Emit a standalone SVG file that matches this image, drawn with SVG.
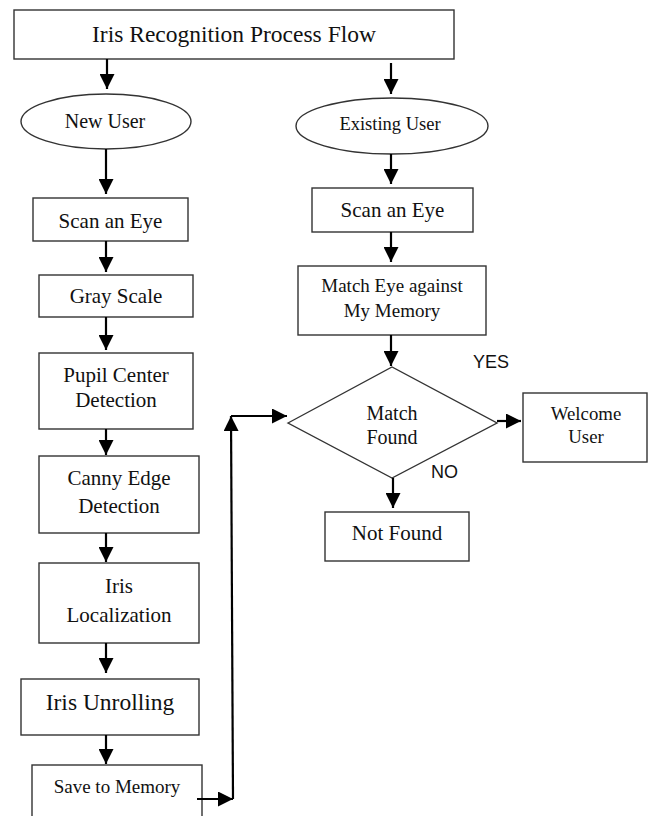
<svg xmlns="http://www.w3.org/2000/svg" width="654" height="816" viewBox="0 0 654 816">
<style>
  .box { fill: #fff; stroke: #333; stroke-width: 1.4; }
  .t { font-family: "Liberation Serif", "Times New Roman", serif; fill: #111; text-anchor: middle; }
  .s { font-family: "Liberation Sans", Arial, sans-serif; fill: #111; }
  .c { stroke: #000; stroke-width: 2.2; fill: none; }
  .ca { stroke: #000; stroke-width: 2.2; fill: none; marker-end: url(#ah); }
</style>
<defs>
  <marker id="ah" viewBox="0 0 14 14" refX="14" refY="7" markerWidth="15" markerHeight="15" markerUnits="userSpaceOnUse" orient="auto">
    <path d="M0,0 L14,7 L0,14 z" fill="#000"/>
  </marker>
</defs>
<rect width="654" height="816" fill="#fff"/>

<g id="title">
  <rect class="box" x="14" y="10" width="440" height="49"/>
  <text class="t" x="234" y="42" font-size="23.5">Iris Recognition Process Flow</text>
</g>
<g id="new-user">
  <ellipse class="box" cx="106" cy="121.5" rx="85" ry="27.5"/>
  <text class="t" x="105" y="128" font-size="20">New User</text>
</g>
<g id="existing-user">
  <ellipse class="box" cx="392" cy="126" rx="96" ry="28"/>
  <text class="t" x="390" y="130" font-size="18.5">Existing User</text>
</g>
<g id="scan-left">
  <rect class="box" x="33" y="198" width="155" height="43"/>
  <text class="t" x="110.5" y="228" font-size="21">Scan an Eye</text>
</g>
<g id="gray-scale">
  <rect class="box" x="39" y="275" width="154" height="42"/>
  <text class="t" x="116" y="303" font-size="21">Gray Scale</text>
</g>
<g id="pupil">
  <rect class="box" x="39" y="353" width="154" height="76"/>
  <text class="t" x="116" y="382" font-size="21">Pupil Center</text>
  <text class="t" x="116" y="407" font-size="21">Detection</text>
</g>
<g id="canny">
  <rect class="box" x="39" y="456" width="160" height="77"/>
  <text class="t" x="119" y="485" font-size="21">Canny Edge</text>
  <text class="t" x="119" y="513" font-size="21">Detection</text>
</g>
<g id="iris-localization">
  <rect class="box" x="39" y="563" width="160" height="80"/>
  <text class="t" x="119" y="593" font-size="21">Iris</text>
  <text class="t" x="119" y="622" font-size="21">Localization</text>
</g>
<g id="iris-unrolling">
  <rect class="box" x="21" y="679" width="178" height="56"/>
  <text class="t" x="110" y="710" font-size="23.5">Iris Unrolling</text>
</g>
<g id="save-memory">
  <rect class="box" x="32" y="765" width="170" height="60"/>
  <text class="t" x="117" y="793" font-size="19">Save to Memory</text>
</g>
<g id="scan-right">
  <rect class="box" x="312" y="188" width="161" height="44"/>
  <text class="t" x="392.5" y="217" font-size="21">Scan an Eye</text>
</g>
<g id="match-eye">
  <rect class="box" x="298" y="266" width="188" height="69"/>
  <text class="t" x="392" y="292" font-size="19">Match Eye against</text>
  <text class="t" x="392" y="317" font-size="19">My Memory</text>
</g>
<g id="match-found">
  <polygon class="box" points="288,423 392,367 497,423 392,478"/>
  <text class="t" x="392" y="420" font-size="20">Match</text>
  <text class="t" x="392" y="444" font-size="20">Found</text>
</g>
<g id="welcome">
  <rect class="box" x="523" y="393" width="124" height="69"/>
  <text class="t" x="586" y="420" font-size="18.8">Welcome</text>
  <text class="t" x="586" y="443" font-size="18.8">User</text>
</g>
<g id="not-found">
  <rect class="box" x="325" y="512" width="144" height="49"/>
  <text class="t" x="397" y="540" font-size="21">Not Found</text>
</g>

<g id="connectors">
  <line class="ca" x1="107" y1="59" x2="107" y2="89"/>
  <line class="ca" x1="391" y1="63" x2="391" y2="94"/>
  <line class="ca" x1="106" y1="149" x2="106" y2="194"/>
  <line class="ca" x1="106" y1="241" x2="106" y2="272"/>
  <line class="ca" x1="106" y1="317" x2="106" y2="350"/>
  <line class="ca" x1="106" y1="429" x2="106" y2="455"/>
  <line class="ca" x1="106" y1="533" x2="106" y2="562"/>
  <line class="ca" x1="106" y1="643" x2="106" y2="673"/>
  <line class="ca" x1="106" y1="735" x2="106" y2="764"/>
  <line class="ca" x1="197" y1="799" x2="233" y2="799"/>
  <line class="ca" x1="233" y1="799" x2="231" y2="416"/>
  <line class="ca" x1="231" y1="416" x2="287" y2="416"/>
  <line class="ca" x1="391" y1="154" x2="391" y2="184"/>
  <line class="ca" x1="391" y1="232" x2="391" y2="262"/>
  <line class="ca" x1="391" y1="335" x2="391" y2="366"/>
  <line class="ca" x1="497" y1="421" x2="521" y2="421"/>
  <line class="ca" x1="393" y1="478" x2="393" y2="508"/>
</g>

<g id="labels">
  <text class="s" x="473" y="368" font-size="18">YES</text>
  <text class="s" x="431" y="478" font-size="18">NO</text>
</g>
</svg>
